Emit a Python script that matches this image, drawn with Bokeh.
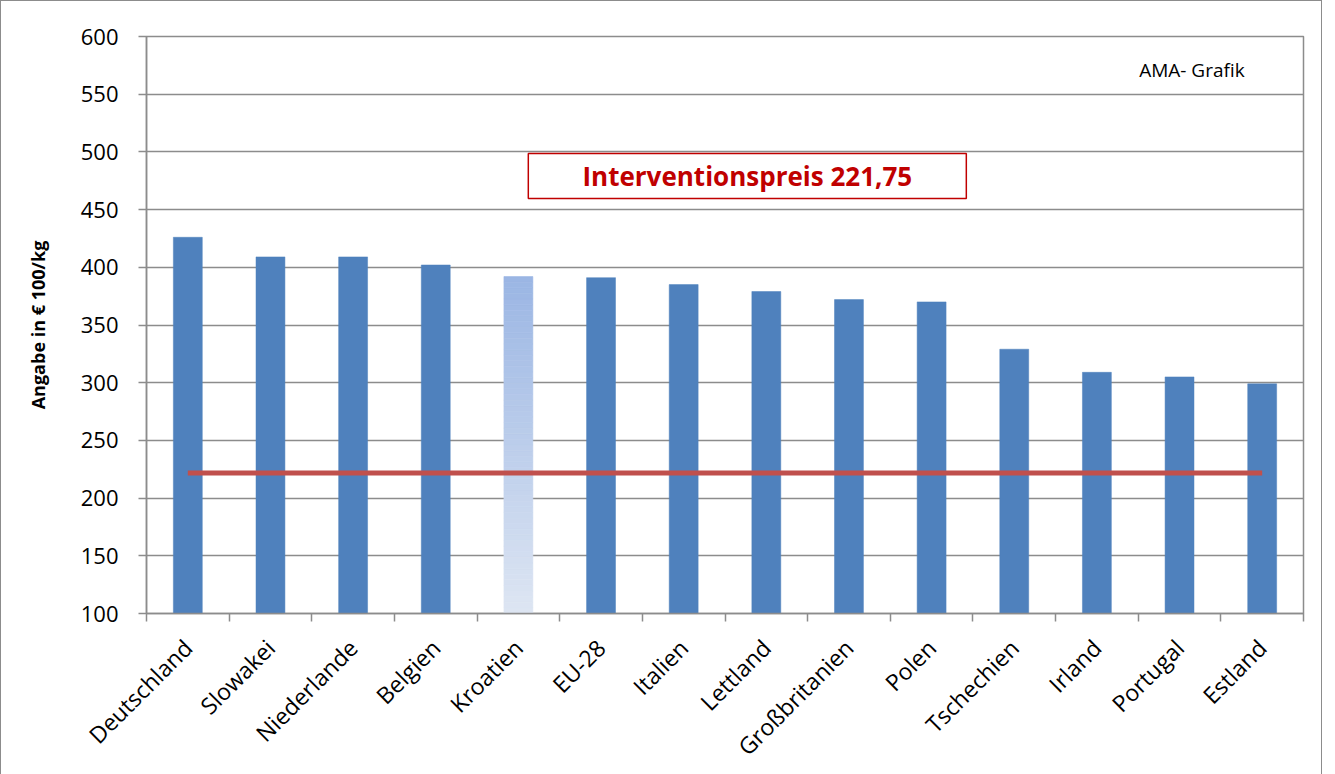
from math import pi
import numpy as np
from bokeh.plotting import figure
from bokeh.models import (Range1d, FixedTicker, ColumnDataSource, Label,
                          BoxAnnotation, CustomJSTickFormatter)
from bokeh.embed import file_html
from bokeh.resources import INLINE

# ---- data ----
countries = ["Deutschland", "Slowakei", "Niederlande", "Belgien", "Kroatien",
             "EU-28", "Italien", "Lettland", "Großbritanien", "Polen",
             "Tschechien", "Irland", "Portugal", "Estland"]
prices = [426, 409, 409, 402, 392, 391, 385, 379, 372, 370, 329, 309, 305, 299]
intervention_price = 221.75
highlight = "Kroatien"
y_ticks = [100, 150, 200, 250, 300, 350, 400, 450, 500, 550, 600]
y_label = "Angabe in € 100/kg"
box_text = "Interventionspreis 221,75"
source_text = "AMA- Grafik"

FONT = "Open Sans"
GRAY = "#8C8C8C"

ncat = len(countries)
centers = [i + 0.5 for i in range(ncat)]

p = figure(x_range=Range1d(0, ncat),
           y_range=Range1d(y_ticks[0], y_ticks[-1]),
           frame_width=1157, frame_height=577,
           output_backend="svg", toolbar_location=None,
           min_border_left=145, min_border_right=18, min_border_top=35,
           min_border_bottom=20)
p.styles = {"border": "1px solid #8c8c8c"}
p.outline_line_color = GRAY
p.outline_line_width = 1.5
p.background_fill_color = "white"
p.border_fill_color = "white"

# bars
base = y_ticks[0]
normal_idx = [i for i, c in enumerate(countries) if c != highlight]
src = ColumnDataSource(dict(x=[centers[i] for i in normal_idx],
                            top=[prices[i] for i in normal_idx]))
p.vbar(x="x", top="top", bottom=base, width=0.35, source=src,
       fill_color="#4F81BD", line_color="#4F81BD", line_width=0.5)

# highlighted bar with vertical gradient
hi = countries.index(highlight)
hv = prices[hi]
n = 60
edges = np.linspace(base, hv, n + 1)
c_bot = np.array([222, 230, 243])
c_top = np.array([155, 182, 228])
cols = []
for k in range(n):
    t = (k + 0.5) / n
    c = (c_bot + (c_top - c_bot) * t).astype(int)
    cols.append("#%02x%02x%02x" % tuple(c))
p.vbar(x=[centers[hi]] * n, bottom=edges[:-1], top=edges[1:], width=0.35,
       fill_color=cols, line_color=cols, line_width=0.6)

# intervention line
p.line(x=[centers[0], centers[-1]], y=[intervention_price] * 2,
       line_color="#C0504D", line_width=5)

# grid
p.xgrid.visible = False
p.ygrid.ticker = FixedTicker(ticks=y_ticks)
p.ygrid.grid_line_color = GRAY
p.ygrid.grid_line_width = 1.5

# y axis
yax = p.yaxis[0]
yax.ticker = FixedTicker(ticks=y_ticks)
yax.minor_tick_line_color = None
yax.major_tick_in = 0
yax.major_tick_out = 8
yax.major_tick_line_color = GRAY
yax.major_tick_line_width = 1.5
yax.axis_line_color = GRAY
yax.axis_line_width = 1.5
yax.major_label_text_font = FONT
yax.major_label_text_font_size = "22px"
yax.major_label_text_color = "black"
yax.major_label_standoff = 20
yax.axis_label = y_label
yax.axis_label_text_font = FONT
yax.axis_label_text_font_size = "18px"
yax.axis_label_text_font_style = "bold"
yax.axis_label_text_color = "black"
yax.axis_label_standoff = 28

# x axis: labels at centers (major), ticks at boundaries (minor)
xax = p.xaxis[0]
xax.ticker = FixedTicker(ticks=centers, minor_ticks=list(range(ncat + 1)))
xax.formatter = CustomJSTickFormatter(args=dict(names=countries),
                                      code="return names[Math.floor(tick)];")
xax.major_tick_line_color = None
xax.major_tick_in = 0
xax.major_tick_out = 8
xax.minor_tick_in = 0
xax.minor_tick_out = 8
xax.minor_tick_line_color = GRAY
xax.minor_tick_line_width = 1.5
xax.axis_line_color = GRAY
xax.axis_line_width = 1.5
xax.major_label_orientation = pi / 4
xax.major_label_text_font = FONT
xax.major_label_text_font_size = "23px"
xax.major_label_text_color = "black"
xax.major_label_standoff = 22

# annotation box
box = BoxAnnotation(left=4.62, right=9.92, bottom=459.6, top=498.6,
                    fill_color="white", fill_alpha=1.0,
                    line_color="#C00000", line_width=1.5, line_alpha=1.0)
p.add_layout(box)
p.add_layout(Label(x=7.27, y=479.1, text=box_text,
                   text_align="center", text_baseline="middle",
                   text_font=FONT, text_font_size="26px", text_font_style="bold",
                   text_color="#C00000"))
p.add_layout(Label(x=12.65, y=571.4, text=source_text,
                   text_align="center", text_baseline="middle",
                   text_font=FONT, text_font_size="19px", text_color="black"))

open("out.html", "w").write(file_html(p, INLINE))
